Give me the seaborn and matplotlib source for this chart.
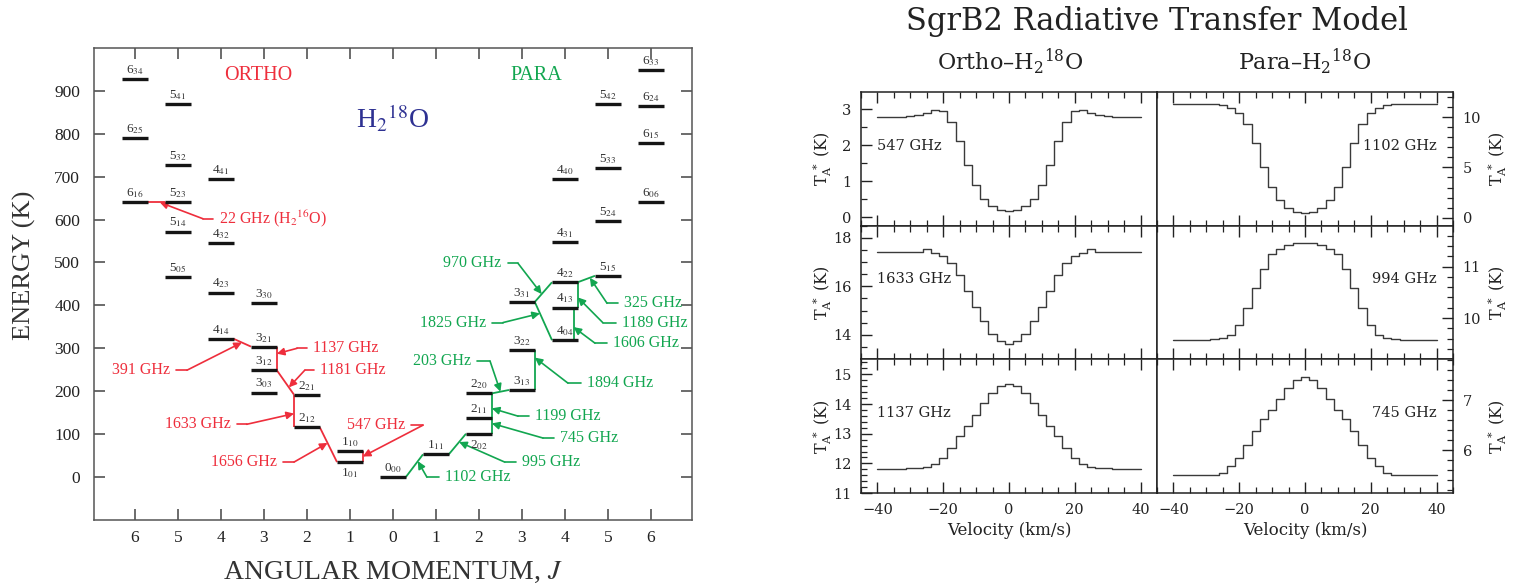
import numpy as np
import pandas as pd
import seaborn as sns
import matplotlib.pyplot as plt
from matplotlib.ticker import MultipleLocator

# ---- energy levels of H2-18O (K) ----
ortho_levels = ['1_01', '1_10', '2_12', '2_21', '3_03', '3_12', '3_21', '3_30',
                '4_14', '4_23', '4_32', '4_41', '5_05', '5_14', '5_23', '5_32', '5_41',
                '6_16', '6_25', '6_34']
ortho_energy = [35, 61, 116, 192, 197, 249, 304, 406,
                322, 430, 546, 695, 466, 572, 640, 727, 870,
                640, 790, 927]
para_levels = ['0_00', '1_11', '2_02', '2_11', '2_20', '3_13', '3_22', '3_31',
               '4_04', '4_13', '4_22', '4_31', '4_40', '5_15', '5_24', '5_33', '5_42',
               '6_06', '6_15', '6_24', '6_33']
para_energy = [0, 53, 101, 137, 195, 203, 295, 408,
               319, 395, 454, 548, 695, 469, 596, 720, 870,
               640, 778, 865, 948]

# transitions (upper/lower level, label)
ortho_trans = [('6_16', '5_23', '22 GHz (H$_2$$^{16}$O)'),
               ('4_14', '3_21', '391 GHz'),
               ('3_21', '3_12', '1137 GHz'),
               ('3_12', '2_21', '1181 GHz'),
               ('2_21', '2_12', '1633 GHz'),
               ('2_12', '1_01', '1656 GHz'),
               ('1_10', '1_01', '547 GHz')]
para_trans = [('0_00', '1_11', '1102 GHz'),
              ('1_11', '2_02', '995 GHz'),
              ('2_11', '2_02', '745 GHz'),
              ('2_20', '2_11', '1199 GHz'),
              ('2_20', '3_13', '203 GHz'),
              ('3_22', '3_13', '1894 GHz'),
              ('3_31', '4_22', '970 GHz'),
              ('3_31', '4_04', '1825 GHz'),
              ('4_22', '5_15', '325 GHz'),
              ('4_22', '4_13', '1189 GHz'),
              ('4_13', '4_04', '1606 GHz')]

j_ticklabels = ['6', '5', '4', '3', '2', '1', '0', '1', '2', '3', '4', '5', '6']

# ---- model spectra (SgrB2), channel centres in km/s ----
velocity = [-40, -37.5, -35, -32.5, -30, -27.5, -25, -22.5, -20, -17.5, -15, -12.5, -10,
            -7.5, -5, -2.5, 0, 2.5, 5, 7.5, 10, 12.5, 15, 17.5, 20, 22.5, 25, 27.5,
            30, 32.5, 35, 37.5, 40]
t547 = [2.80, 2.80, 2.80, 2.80, 2.81, 2.83, 2.89, 2.98, 2.96, 2.66, 2.12, 1.46, 0.89,
        0.51, 0.31, 0.22, 0.19, 0.22, 0.31, 0.51, 0.89, 1.46, 2.12, 2.66, 2.96, 2.98,
        2.89, 2.84, 2.81, 2.80, 2.80, 2.80, 2.80]
t1102 = [11.33, 11.33, 11.33, 11.32, 11.30, 11.27, 11.17, 10.93, 10.40, 9.33, 7.40, 5.07,
         3.07, 1.73, 0.93, 0.57, 0.43, 0.57, 0.93, 1.73, 3.07, 5.07, 7.40, 9.33, 10.40,
         10.93, 11.17, 11.27, 11.30, 11.32, 11.33, 11.33, 11.33]
t1633 = [17.41, 17.41, 17.41, 17.41, 17.41, 17.41, 17.52, 17.37, 17.23, 16.96, 16.45, 15.80,
         15.14, 14.55, 14.04, 13.73, 13.60, 13.73, 14.04, 14.55, 15.14, 15.80, 16.45, 16.96,
         17.23, 17.37, 17.52, 17.41, 17.41, 17.41, 17.41, 17.41, 17.41]
t994 = [9.57, 9.57, 9.57, 9.57, 9.58, 9.59, 9.62, 9.68, 9.87, 10.19, 10.59, 10.95, 11.25,
        11.34, 11.41, 11.45, 11.46, 11.45, 11.41, 11.34, 11.25, 10.95, 10.59, 10.19, 9.87,
        9.68, 9.62, 9.59, 9.58, 9.57, 9.57, 9.57, 9.57]
t1137 = [11.82, 11.82, 11.82, 11.82, 11.83, 11.84, 11.89, 11.99, 12.19, 12.52, 12.91, 13.27,
         13.63, 14.02, 14.36, 14.60, 14.69, 14.60, 14.36, 14.02, 13.63, 13.27, 12.91, 12.52,
         12.19, 11.99, 11.89, 11.84, 11.83, 11.82, 11.82, 11.82, 11.82]
t745 = [5.50, 5.50, 5.50, 5.50, 5.50, 5.51, 5.55, 5.68, 5.85, 6.11, 6.39, 6.62, 6.81,
        7.03, 7.25, 7.41, 7.47, 7.41, 7.25, 7.03, 6.81, 6.62, 6.39, 6.11, 5.85, 5.68,
        5.55, 5.51, 5.50, 5.50, 5.50, 5.50, 5.50]
panel_freqs = ['547 GHz', '1102 GHz', '1633 GHz', '994 GHz', '1137 GHz', '745 GHz']

# ---- styling / layout ----
sns.set_theme(style='ticks')
plt.rcParams['font.family'] = ['Liberation Serif', 'DejaVu Serif']
plt.rcParams['mathtext.fontset'] = 'stix'

RED = '#ee2e3c'
GREEN = '#12a650'
BLUE = '#2e3192'
HW = 0.3   # half width of a level bar, in J units

# annotation layout: text x, text y, alignment, elbow x, fraction along line
ann_layout = {
    '22 GHz (H$_2$$^{16}$O)': (1.95, 602, 'left', 1.58, 0.7),
    '391 GHz': (0.81, 249, 'right', 1.21, 0.47),
    '1137 GHz': (4.14, 300, 'left', 3.77, 0.3),
    '1181 GHz': (4.30, 249, 'left', 3.95, 0.7),
    '1633 GHz': (2.23, 123, 'right', 2.60, 0.58),
    '1656 GHz': (3.30, 35, 'right', 3.70, 0.45),
    '547 GHz': (6.28, 121, 'right', 6.70, 0.5),
    '1102 GHz': (7.21, 0, 'left', 6.79, 0.7),
    '995 GHz': (9.00, 35, 'left', 8.60, 0.6),
    '745 GHz': (9.88, 91, 'left', 9.49, 0.33),
    '1199 GHz': (9.30, 142, 'left', 8.91, 0.6),
    '203 GHz': (7.81, 270, 'right', 8.26, 0.5),
    '1894 GHz': (10.51, 219, 'left', 10.07, 0.18),
    '970 GHz': (8.53, 498, 'right', 8.91, 0.4),
    '1825 GHz': (8.16, 360, 'right', 8.56, 0.3),
    '325 GHz': (11.37, 405, 'left', 10.98, 0.7),
    '1189 GHz': (11.33, 360, 'left', 10.88, 0.6),
    '1606 GHz': (11.12, 312, 'left', 10.70, 0.6),
}
vert_side = {'1633 GHz': -1, '1606 GHz': 0.67}

fig = plt.figure(figsize=(15.17, 5.88), dpi=100)

# ================= energy level diagram =================
ax = fig.add_axes([0.062, 0.1156, 0.394, 0.803])

lev = pd.concat([
    pd.DataFrame({'name': ortho_levels, 'E': ortho_energy, 'species': 'ortho'}),
    pd.DataFrame({'name': para_levels, 'E': para_energy, 'species': 'para'})])
lev['J'] = lev['name'].str[0].astype(int)
lev['pos'] = np.where(lev['species'] == 'ortho', 6 - lev['J'], 6 + lev['J'])
pos = dict(zip(lev['name'], lev['pos']))
energy = dict(zip(lev['name'], lev['E']))

# transitions + leader arrows
for trans, col in [(ortho_trans, RED), (para_trans, GREEN)]:
    for a, b, lbl in trans:
        pa, pb = pos[a], pos[b]
        if pa == pb:
            x = pa + vert_side.get(lbl, 1) * HW
            xs = [x, x]
        elif pa < pb:
            xs = [pa + HW, pb - HW]
        else:
            xs = [pa - HW, pb + HW]
        ys = [energy[a], energy[b]]
        ax.plot(xs, ys, color=col, lw=1.3, solid_capstyle='butt', zorder=2)

        tx, ty, ha, ex, frac = ann_layout[lbl]
        tip = (xs[0] + frac * (xs[1] - xs[0]), ys[0] + frac * (ys[1] - ys[0]))
        gap = -0.14 if ha == 'left' else 0.14
        ax.plot([tx + gap, ex], [ty, ty], color=col, lw=1.2, zorder=2)
        ax.annotate('', xy=tip, xytext=(ex, ty),
                    arrowprops=dict(arrowstyle='-|>', color=col, lw=1.2,
                                    shrinkA=0, shrinkB=0, mutation_scale=11))
        ax.text(tx, ty, lbl, color=col, ha=ha, va='center', fontsize=11.5)

# level bars
ax.hlines(lev['E'], lev['pos'] - HW, lev['pos'] + HW, color='#151515', lw=2.4, zorder=3)
for _, r in lev.iterrows():
    txt = r['name'][0] + '$_{' + r['name'][2:] + '}$'
    below = r['name'] in ('1_01', '2_02')
    ax.annotate(txt, (r['pos'], r['E']), xytext=(0, -3 if below else 1.5),
                textcoords='offset points', ha='center',
                va='top' if below else 'bottom', fontsize=9.5, color='#333333')

ax.text(2.86, 935, 'ORTHO', color=RED, fontsize=14.5, ha='center', va='center')
ax.text(9.33, 935, 'PARA', color=GREEN, fontsize=14.5, ha='center', va='center')
ax.text(6.0, 835, 'H$_2$$^{18}$O', color=BLUE, fontsize=20, ha='center', va='center')

ax.set_xlim(-0.95, 12.95)
ax.set_ylim(-100, 1000)
ax.set_xticks(range(13))
ax.set_xticklabels(j_ticklabels)
ax.set_yticks(range(0, 1000, 100))
ax.tick_params(direction='in', length=8, width=1.1, colors='#444444',
               top=True, right=True, labelsize=12.5, labelcolor='#222222')
ax.tick_params(axis='y', pad=10)
ax.tick_params(axis='x', pad=7)
for s in ax.spines.values():
    s.set_color('#555555')
    s.set_linewidth(1.1)
ax.set_ylabel('ENERGY (K)', fontsize=19, color='#333333')
ax.yaxis.set_label_coords(-0.097, 0.54)
ax.set_xlabel('ANGULAR MOMENTUM, $J$', fontsize=20, color='#333333')
ax.xaxis.set_label_coords(0.5, -0.11)
ax.xaxis.label.set_va('center')

# ================= radiative transfer model spectra =================
spectra = [t547, t1102, t1633, t994, t1137, t745]
ylims = [(-0.23, 3.48), (-0.8, 12.5), (12.98, 18.5), (9.2, 11.79), (11.0, 15.5), (5.14, 7.82)]
ysteps = [(1, 0.5), (5, 1), (2, 0.5), (1, 0.2), (1, 0.2), (1, 0.2)]
RF = 'DejaVu Serif'
x0, w = 0.5676, 0.1951
row_h = 0.2274
top = 0.8435
for i, (vals, freq) in enumerate(zip(spectra, panel_freqs)):
    row, col = divmod(i, 2)
    axs = fig.add_axes([x0 + col * w, top - (row + 1) * row_h, w, row_h])
    df = pd.DataFrame({'v': velocity, 't': vals})
    sns.lineplot(data=df, x='v', y='t', ax=axs, drawstyle='steps-mid',
                 color='#3a3a3a', lw=1.0)
    axs.set_xlim(-45, 45)
    axs.set_ylim(*ylims[i])
    axs.xaxis.set_major_locator(MultipleLocator(20))
    axs.xaxis.set_minor_locator(MultipleLocator(5))
    axs.yaxis.set_major_locator(MultipleLocator(ysteps[i][0]))
    axs.yaxis.set_minor_locator(MultipleLocator(ysteps[i][1]))
    left = col == 0
    axs.tick_params(which='both', direction='in', top=True, bottom=True,
                    left=left, right=not left, labelleft=left, labelright=not left,
                    labelbottom=(row == 2), colors='#222222',
                    labelfontfamily=RF, labelsize=10.5, pad=7)
    axs.tick_params(which='major', length=8, width=1.0)
    axs.tick_params(which='minor', length=4, width=0.9)
    for s in axs.spines.values():
        s.set_color('#222222')
        s.set_linewidth(1.1)
    axs.set_ylabel(r'T$_{\rm A}^{\ *}$ (K)', family=RF, math_fontfamily='dejavuserif',
                   fontsize=11.5, color='#222222')
    axs.yaxis.set_label_coords(-0.093 if left else 1.19, 0.5)
    axs.yaxis.label.set_rotation(90)
    if row == 2:
        axs.set_xlabel('Velocity (km/s)', family=RF, fontsize=12, color='#222222')
    else:
        axs.set_xlabel('')
    axs.text(0.054 if left else 0.946, 0.6, freq, transform=axs.transAxes,
             ha='left' if left else 'right', va='center', family=RF,
             fontsize=10.5, color='#222222')

fig.text(0.7627, 0.9626, 'SgrB2 Radiative Transfer Model', ha='center', va='center',
         family=RF, fontsize=22, color='#222222')
fig.text(0.666, 0.8946, 'Ortho\u2013H$_2$$^{18}$O', ha='center', va='center',
         family=RF, math_fontfamily='dejavuserif', fontsize=16, color='#222222')
fig.text(0.860, 0.8946, 'Para\u2013H$_2$$^{18}$O', ha='center', va='center',
         family=RF, math_fontfamily='dejavuserif', fontsize=16, color='#222222')

fig.savefig('out.png', dpi=100, facecolor='white')
